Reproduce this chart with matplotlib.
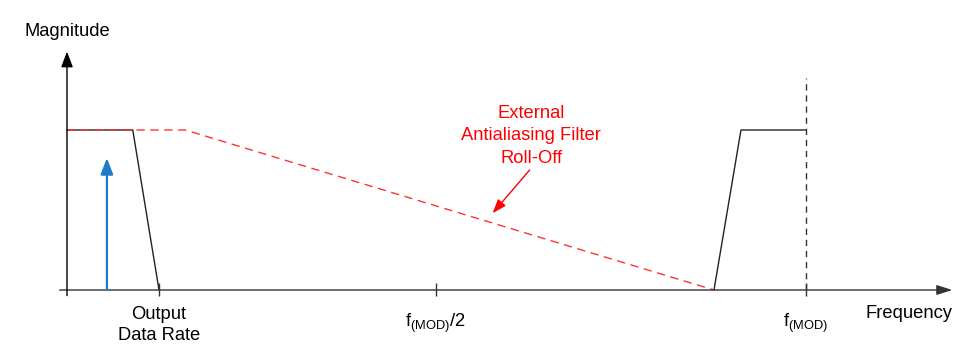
import matplotlib
matplotlib.use("Agg")
import matplotlib.pyplot as plt

plt.rcParams['font.family'] = ['Liberation Sans', 'DejaVu Sans']
plt.rcParams['mathtext.fontset'] = 'custom'
plt.rcParams['mathtext.rm'] = 'Liberation Sans'
plt.rcParams['mathtext.it'] = 'Liberation Sans'

# ---- data (normalized frequency: 1.0 = f_MOD; magnitude: 1.0 = passband) ----
pass_x = [0.0, 0.089, 0.1245]
pass_y = [1.0, 1.0, 0.0]
image_x = [0.8755, 0.912, 1.0]
image_y = [0.0, 1.0, 1.0]
aaf_x = [0.0, 0.16, 0.8755]
aaf_y = [1.0, 1.0, 0.0]
signal_x = 0.054
signal_mag = 0.825
fmod_line_top = 1.325
tick_pos = [0.1245, 0.499, 1.0]
tick_labels = ["Output\nData Rate", r"$\mathrm{f}_{\mathrm{(MOD)}}\mathrm{/2}$", r"$\mathrm{f}_{\mathrm{(MOD)}}$"]
annot_text = "External\nAntialiasing Filter\nRoll-Off"

fig = plt.figure(figsize=(9.6, 3.57), dpi=100)
ax = fig.add_axes([0, 0, 1, 1])
ax.set_xlim(-67 / 739, (960 - 67) / 739)
ax.set_ylim((290 - 357) / 160, 290 / 160)
ax.axis('off')

axis_col = '#333333'
# x axis with arrow
ax.annotate('', xy=(1.198, 0), xytext=(-0.01, 0),
            arrowprops=dict(arrowstyle='-|>,head_length=0.63,head_width=0.2',
                            mutation_scale=15, color=axis_col, lw=1.0,
                            shrinkA=0, shrinkB=0))
# y axis with arrow
ax.annotate('', xy=(0, 1.49), xytext=(0, -0.035),
            arrowprops=dict(arrowstyle='-|>,head_length=0.63,head_width=0.24',
                            mutation_scale=15, color='black', lw=1.0,
                            shrinkA=0, shrinkB=0))
# ticks
ax.vlines(tick_pos, -0.035, 0.045, color=axis_col, lw=1.0)

# filter passband and image
ax.plot(pass_x, pass_y, color='#222222', lw=1.0)
ax.plot(image_x, image_y, color='#222222', lw=1.0)
# fmod dashed
ax.plot([1.0, 1.0], [0, fmod_line_top], color='#333333', lw=1.0,
        dashes=(4.5, 3.5))
# antialias filter roll-off
ax.plot(aaf_x, aaf_y, color='#ff3333', lw=1.0, dashes=(6, 4))

# signal arrow
ax.annotate('', xy=(signal_x, signal_mag), xytext=(signal_x, 0),
            arrowprops=dict(arrowstyle='-|>,head_length=0.65,head_width=0.25',
                            mutation_scale=15, color='#1f7bc8', lw=1.6,
                            shrinkA=0, shrinkB=0))

# labels
fs = 13.2
ax.text(-0.058, 1.615, "Magnitude", fontsize=fs, ha='left', va='center')
ax.text(1.08, -0.15, "Frequency", fontsize=fs, ha='left', va='center')
ax.text(tick_pos[0], -0.1, tick_labels[0], fontsize=fs, ha='center', va='top',
        linespacing=1.3)
ax.text(tick_pos[1], -0.21, tick_labels[1], fontsize=fs, ha='center', va='center')
ax.text(tick_pos[2], -0.21, tick_labels[2], fontsize=fs, ha='center', va='center')

ax.text(0.628, 0.9625, annot_text, fontsize=fs, ha='center', va='center',
        color='red', linespacing=1.39)
ax.annotate('', xy=(0.576, 0.48), xytext=(0.626, 0.75),
            arrowprops=dict(arrowstyle='-|>,head_length=0.6,head_width=0.22',
                            mutation_scale=14, color='red', lw=1.0,
                            shrinkA=0, shrinkB=0))

fig.savefig('out.png', dpi=100)
